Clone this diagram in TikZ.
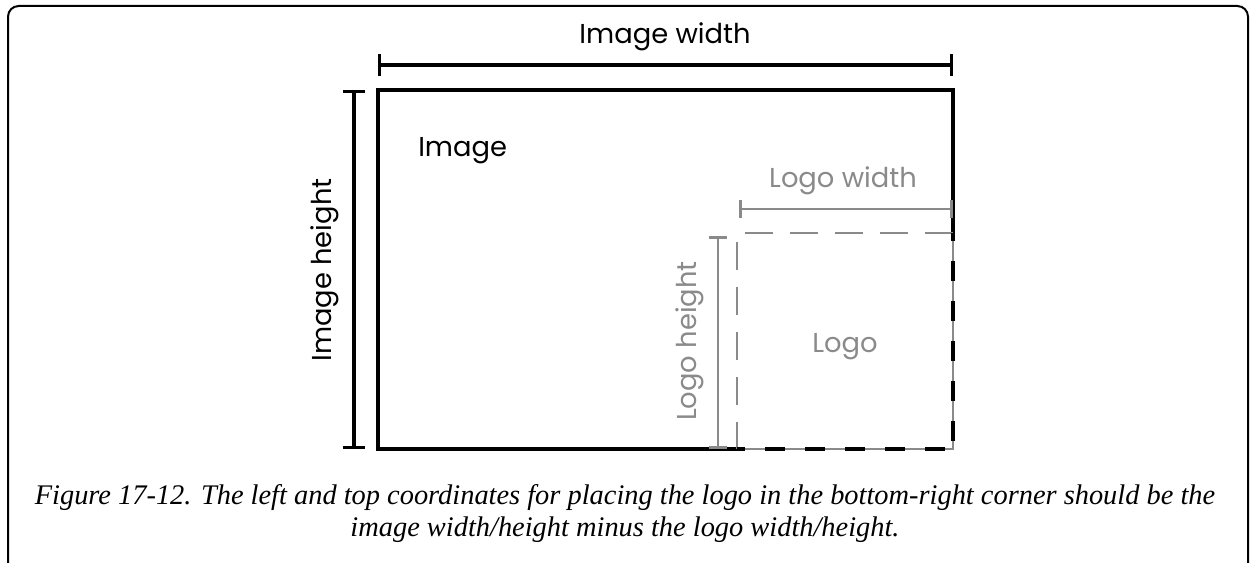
\documentclass[tikz,border=0pt]{standalone}
\usepackage{fontspec}
\setmainfont{Liberation Serif}
\newfontfamily\labelfont{Poppins}
\usetikzlibrary{arrows.meta}
\definecolor{logogray}{HTML}{8A8A8A}

\begin{document}
\begin{tikzpicture}[x=0.75pt, y=-0.75pt,
        dimline/.style={{Bar[width=16pt]}-{Bar[width=16pt]}, line width=2.5pt},
        logodim/.style={{Bar[width=13pt]}-{Bar[width=13pt]}, line width=1.9pt, draw=logogray},
        lbl/.style={font=\labelfont\fontsize{20.5}{24}\selectfont, inner sep=0pt},
        logolbl/.style={lbl, text=logogray},
        grayedge/.style={draw=logogray, line width=1.9pt, dash pattern=on 21pt off 12.75pt},
        blackedge/.style={draw=black, line width=2.5pt, dash pattern=on 15pt off 15pt, dash phase=-6pt},
        captext/.style={font=\itshape\fontsize{21.3}{24}\selectfont, inner sep=0pt, anchor=base}
      ]
      \useasboundingbox (0,0) rectangle (1250,563);
      % outer frame
      \draw[line width=1.5pt, rounded corners=8pt] (8,580) -- (8,6) -- (1248,6) -- (1248,580);
      % corners of the image and of the logo
      \coordinate (imgnw) at (378,90);
      \coordinate (imgse) at (953,449);
      \coordinate (logonw) at (737,233);
      \coordinate (imgsw) at (imgnw |- imgse);
      \coordinate (imgne) at (imgse |- imgnw);
      \coordinate (logosw) at (logonw |- imgse);
      \coordinate (logone) at (imgse |- logonw);
      % image border
      \draw[line width=2.5pt, line join=miter] (logosw) -- (imgsw) -- (imgnw) -- (imgne) -- (logone);
      % logo box
      \draw[draw=logogray, line width=1.7pt] (logone) -- (imgse) -- (logosw);
      \draw[grayedge] (logone) -- (logonw) -- (logosw);
      \draw[blackedge] (imgse) -- (logone);
      \draw[blackedge] (imgse) -- (logosw);
      % image dimensions
      \coordinate (wl) at (378,65);
      \coordinate (wr) at (953,65);
      \draw[dimline] (wl) -- (wr);
      \node[lbl, anchor=base] (imgwidth) at (665,44) {Image width};
      \coordinate (ht) at (354,90);
      \coordinate (hb) at (354,449);
      \draw[dimline] (ht) -- (hb);
      \node[lbl, anchor=base, rotate=90] (imgheight) at (331,270) {Image height};
      \node[lbl, anchor=base west] (imglabel) at (418,157) {Image};
      % logo dimensions
      \coordinate (lwl) at (739,209);
      \coordinate (lwr) at (953,209);
      \draw[logodim] (lwl) -- (lwr);
      \node[logolbl, anchor=base] (logowidth) at (843,188) {Logo width};
      \coordinate (lht) at (718,236);
      \coordinate (lhb) at (718,449);
      \draw[logodim] (lht) -- (lhb);
      \node[logolbl, anchor=base, rotate=90] (logoheight) at (696,341) {Logo height};
      \node[logolbl, anchor=base] (logolabel) at (845,352) {Logo};
      % caption
      \node[captext] (caption1) at (625,504)
        {Figure 17-12. The left and top coordinates for placing the logo in the bottom-right corner should be the};
      \node[captext] (caption2) at (625,536)
        {image width/height minus the logo width/height.};
    \end{tikzpicture}
\end{document}
